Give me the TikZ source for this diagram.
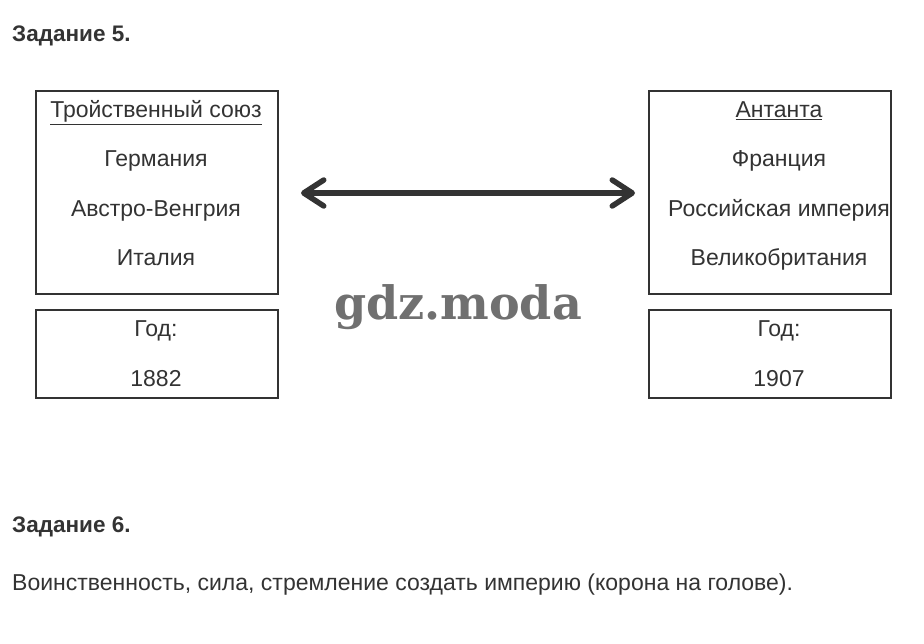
\documentclass[tikz,border=0pt]{standalone}
\usepackage{fontspec}
\setmainfont{Liberation Sans}
\newfontfamily\wmfont{DejaVu Serif}
\usetikzlibrary{arrows.meta}
\definecolor{ink}{HTML}{333333}
\definecolor{wm}{HTML}{707070}
\tikzset{
  box/.style={draw=ink, line width=2pt, anchor=north west, inner sep=0pt},
  txt/.style={text=ink, anchor=base, inner sep=0pt, font=\fontsize{23}{26}\selectfont},
  head/.style={text=ink, anchor=base west, inner sep=0pt, font=\fontsize{22.5}{26}\selectfont\bfseries},
  bigarrow/.style={draw=ink, line width=5.5pt, line cap=round,
    {Straight Barb[length=20pt,width=26pt,line cap=round,line join=round]}-{Straight Barb[length=20pt,width=26pt,line cap=round,line join=round]}}
}
\begin{document}
\begin{tikzpicture}[x=1pt,y=-1pt]
\useasboundingbox (0,0) rectangle (924,644);
\fill[white] (0,0) rectangle (924,644);
\node[head] (t5) at (12,42) {Задание 5.};
% left boxes
\node[box, minimum width=242pt, minimum height=203pt] (lb) at (35,90) {};
\node[box, minimum width=242pt, minimum height=88pt] (ly) at (35,309) {};
\node[txt] (l1) at (156,118) {\underline{Тройственный союз}};
\node[txt] (l2) at (156,167) {Германия};
\node[txt] (l3) at (156,217) {Австро-Венгрия};
\node[txt] (l4) at (156,266) {Италия};
\node[txt] (l5) at (156,337) {Год:};
\node[txt] (l6) at (156,386) {1882};
% right boxes
\node[box, minimum width=242pt, minimum height=203pt] (rb) at (648,90) {};
\node[box, minimum width=242pt, minimum height=88pt] (ry) at (648,309) {};
\node[txt] (r1) at (779,118) {\underline{Антанта}};
\node[txt] (r2) at (779,167) {Франция};
\node[txt] (r3) at (779,217) {Российская империя};
\node[txt] (r4) at (779,266) {Великобритания};
\node[txt] (r5) at (779,337) {Год:};
\node[txt] (r6) at (779,386) {1907};
% arrow
\coordinate (al) at (301,193);
\coordinate (ar) at (635,193);
\draw[bigarrow] (al) -- (ar);
% watermark
\node[anchor=base, inner sep=0pt, text=wm, font=\wmfont\bfseries\fontsize{46}{46}\selectfont] (wmk) at (458,320) {gdz.moda};
% task 6
\node[head] (t6) at (12,532) {Задание 6.};
\node[txt, anchor=base west] (ans) at (12,590) {Воинственность, сила, стремление создать империю (корона на голове).};
\end{tikzpicture}
\end{document}
